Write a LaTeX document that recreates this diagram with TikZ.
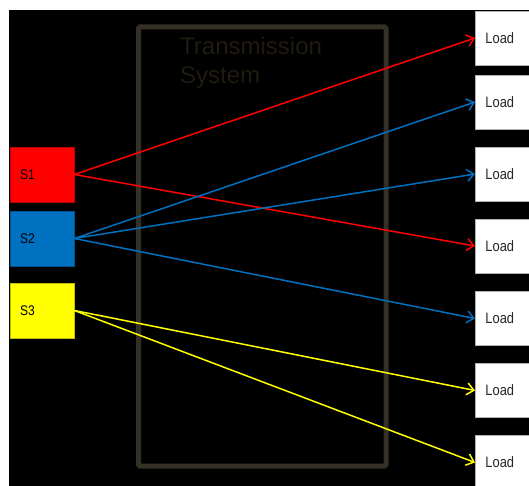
\documentclass[tikz,border=0pt]{standalone}
\usepackage{fontspec}
\setmainfont{Liberation Sans}
\newfontfamily\narrowsans[FakeStretch=0.86]{Liberation Sans}
\usetikzlibrary{arrows.meta}
\definecolor{srcred}{RGB}{255,0,0}
\definecolor{srcblue}{RGB}{0,112,192}
\definecolor{srcyellow}{RGB}{255,255,0}
\definecolor{tsgray}{RGB}{52,48,38}
\tikzset{
  x=1pt, y=1pt,
  source/.style={draw=#1!75!black, fill=#1, line width=0.8pt,
    minimum height=55pt, text width=44pt, inner xsep=10pt, align=left,
    font=\narrowsans\fontsize{14}{16}\selectfont, text=black},
  loadbox/.style={draw=gray!60, fill=white, line width=0.8pt, anchor=west,
    minimum height=54pt, text width=50pt, inner xsep=10pt, align=left,
    font=\narrowsans\fontsize{15}{17}\selectfont, text=black!85},
  feed/.style={line width=1.5pt, draw=#1,
    -{Straight Barb[length=7pt,width=12pt,line width=1.5pt]}},
}
\begin{document}
\begin{tikzpicture}
  \useasboundingbox (0,0) rectangle (529,-486);
  \clip (0,0) rectangle (529,-486);
  \fill[white] (0,0) rectangle (529,-486);
  \fill[black] (9,-10) rectangle (529,-486);

  % transmission system frame and caption
  \node[draw=tsgray, line width=5pt, rounded corners=1.5pt,
        minimum width=247.5pt, minimum height=439pt] (ts) at (262.25,-246.5) {};
  \node[anchor=north west, inner sep=0pt, align=left, text=tsgray!110,
        font=\fontsize{24}{29}\selectfont] (tslabel) at (180,-37) {Transmission\\System};

  % sources
  \node[source=srcred]    (s1) at (42,-174.5) {S1};
  \node[source=srcblue]   (s2) at (42,-238.5) {S2};
  \node[source=srcyellow] (s3) at (42,-310.5) {S3};

  % loads
  \node[loadbox] (l1) at (475,-38)  {Load};
  \node[loadbox] (l2) at (475,-102) {Load};
  \node[loadbox] (l3) at (475,-174) {Load};
  \node[loadbox] (l4) at (475,-246) {Load};
  \node[loadbox] (l5) at (475,-318.5) {Load};
  \node[loadbox] (l6) at (475,-390.5) {Load};
  \node[loadbox] (l7) at (475,-462.5) {Load};

  % power flows
  \draw[feed=srcred]    (s1.east) -- (l1.west);
  \draw[feed=srcred]    (s1.east) -- (l4.west);
  \draw[feed=srcblue]   (s2.east) -- (l2.west);
  \draw[feed=srcblue]   (s2.east) -- (l3.west);
  \draw[feed=srcblue]   (s2.east) -- (l5.west);
  \draw[feed=srcyellow] (s3.east) -- (l6.west);
  \draw[feed=srcyellow] (s3.east) -- (l7.west);
\end{tikzpicture}
\end{document}
